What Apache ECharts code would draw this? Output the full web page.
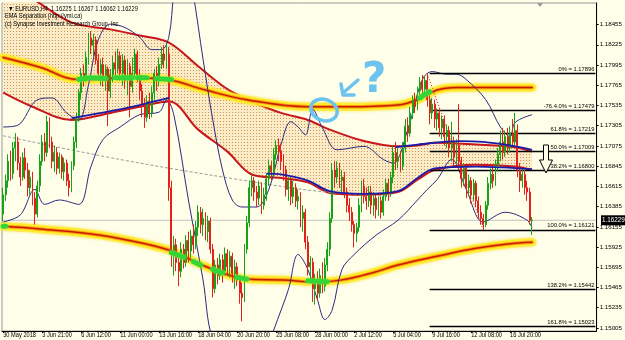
<!DOCTYPE html>
<html>
<head>
<meta charset="utf-8">
<script src="https://cdn.jsdelivr.net/npm/echarts@6/dist/echarts.min.js"></script>
<style>
html,body{margin:0;padding:0;background:#fefee9;}
#chart{width:625px;height:340px;}
</style>
</head>
<body>
<div id="chart"></div>
<script>
// time axis labels, one every 16 bars
var timeLabels = ['30 May 2018','3 Jun 21:00','6 Jun 12:00','11 Jun 00:00','13 Jun 16:00','18 Jun 04:00','20 Jun 20:00','25 Jun 08:00','28 Jun 00:00','2 Jul 12:00','5 Jul 04:00','9 Jul 16:00','12 Jul 08:00','16 Jul 20:00'];
var priceTicks = [1.18455,1.18225,1.17995,1.17765,1.17535,1.17305,1.17075,1.16845,1.16615,1.16385,1.16155,1.15925,1.15695,1.15465,1.15235,1.15005];
var lastPrice = 1.16229;

// EURUSD H4 bars: [open, close, low, high]
var candles = [
[1.1630,1.1652,1.1622,1.1660],[1.1652,1.1668,1.1645,1.1675],[1.1668,1.1690,1.1660,1.1698],[1.1690,1.1676,1.1668,1.1702],
[1.1676,1.1705,1.1670,1.1712],[1.1705,1.1712,1.1690,1.1722],[1.1712,1.1688,1.1680,1.1718],[1.1688,1.1672,1.1662,1.1695],
[1.1672,1.1694,1.1668,1.1700],[1.1694,1.1680,1.1670,1.1705],[1.1680,1.1660,1.1650,1.1688],[1.1660,1.1672,1.1652,1.1680],
[1.1672,1.1648,1.1640,1.1678],[1.1648,1.1630,1.1618,1.1655],[1.1630,1.1662,1.1626,1.1668],[1.1662,1.1690,1.1655,1.1698],
[1.1690,1.1712,1.1685,1.1720],[1.1712,1.1700,1.1690,1.1722],[1.1700,1.1735,1.1695,1.1742],[1.1735,1.1712,1.1705,1.1740],
[1.1712,1.1690,1.1682,1.1718],[1.1690,1.1700,1.1678,1.1708],[1.1700,1.1682,1.1675,1.1706],[1.1682,1.1695,1.1676,1.1700],
[1.1695,1.1678,1.1670,1.1698],[1.1678,1.1688,1.1668,1.1694],[1.1688,1.1668,1.1662,1.1692],[1.1668,1.1660,1.1650,1.1676],
[1.1660,1.1685,1.1655,1.1690],[1.1685,1.1712,1.1680,1.1718],[1.1712,1.1740,1.1705,1.1745],[1.1740,1.1768,1.1735,1.1772],
[1.1768,1.1790,1.1760,1.1796],[1.1790,1.1785,1.1775,1.1800],[1.1785,1.1808,1.1780,1.1815],[1.1808,1.1830,1.1800,1.1836],
[1.1830,1.1822,1.1812,1.1838],[1.1822,1.1828,1.1808,1.1835],[1.1828,1.1805,1.1800,1.1832],[1.1805,1.1790,1.1782,1.1812],
[1.1790,1.1800,1.1776,1.1806],[1.1800,1.1782,1.1775,1.1808],[1.1782,1.1795,1.1770,1.1800],[1.1795,1.1770,1.1730,1.1798],
[1.1770,1.1788,1.1762,1.1795],[1.1788,1.1802,1.1780,1.1810],[1.1802,1.1795,1.1785,1.1815],[1.1795,1.1810,1.1790,1.1818],
[1.1810,1.1790,1.1782,1.1815],[1.1790,1.1805,1.1776,1.1812],[1.1805,1.1782,1.1772,1.1810],[1.1782,1.1798,1.1765,1.1806],
[1.1798,1.1775,1.1740,1.1802],[1.1775,1.1790,1.1768,1.1808],[1.1790,1.1812,1.1785,1.1818],[1.1812,1.1788,1.1780,1.1816],
[1.1788,1.1770,1.1760,1.1795],[1.1770,1.1755,1.1740,1.1778],[1.1755,1.1740,1.1728,1.1762],[1.1740,1.1758,1.1735,1.1765],
[1.1758,1.1745,1.1738,1.1768],[1.1745,1.1768,1.1740,1.1775],[1.1768,1.1790,1.1760,1.1795],[1.1790,1.1782,1.1770,1.1798],
[1.1782,1.1800,1.1775,1.1808],[1.1800,1.1812,1.1795,1.1820],[1.1812,1.1805,1.1796,1.1822],[1.1805,1.1812,1.1795,1.1824],
[1.1812,1.1660,1.1645,1.1820],[1.1660,1.1585,1.1570,1.1668],[1.1585,1.1595,1.1560,1.1605],[1.1595,1.1575,1.1565,1.1602],
[1.1575,1.1565,1.1548,1.1582],[1.1565,1.1590,1.1558,1.1598],[1.1590,1.1575,1.1568,1.1596],[1.1575,1.1600,1.1570,1.1606],
[1.1600,1.1588,1.1575,1.1610],[1.1588,1.1605,1.1580,1.1612],[1.1605,1.1595,1.1585,1.1618],[1.1595,1.1615,1.1590,1.1622],
[1.1615,1.1632,1.1605,1.1640],[1.1632,1.1618,1.1608,1.1638],[1.1618,1.1625,1.1605,1.1636],[1.1625,1.1610,1.1600,1.1632],
[1.1610,1.1622,1.1598,1.1628],[1.1622,1.1590,1.1585,1.1626],[1.1590,1.1545,1.1535,1.1596],[1.1545,1.1572,1.1540,1.1578],
[1.1572,1.1560,1.1550,1.1580],[1.1560,1.1578,1.1555,1.1585],[1.1578,1.1565,1.1552,1.1584],[1.1565,1.1585,1.1560,1.1592],
[1.1585,1.1570,1.1560,1.1590],[1.1570,1.1582,1.1558,1.1588],[1.1582,1.1562,1.1552,1.1586],[1.1562,1.1570,1.1545,1.1578],
[1.1570,1.1555,1.1548,1.1575],[1.1555,1.1540,1.1528,1.1560],[1.1540,1.1535,1.1508,1.1552],[1.1535,1.1590,1.1530,1.1596],
[1.1590,1.1620,1.1585,1.1628],[1.1620,1.1660,1.1615,1.1668],[1.1660,1.1668,1.1650,1.1675],[1.1668,1.1655,1.1645,1.1672],
[1.1655,1.1648,1.1638,1.1662],[1.1648,1.1662,1.1640,1.1668],[1.1662,1.1640,1.1630,1.1666],[1.1640,1.1652,1.1635,1.1660],
[1.1652,1.1670,1.1645,1.1676],[1.1670,1.1685,1.1662,1.1692],[1.1685,1.1678,1.1668,1.1690],[1.1678,1.1698,1.1672,1.1705],
[1.1698,1.1708,1.1692,1.1714],[1.1708,1.1702,1.1690,1.1716],[1.1702,1.1690,1.1680,1.1710],[1.1690,1.1680,1.1668,1.1698],
[1.1680,1.1658,1.1650,1.1685],[1.1658,1.1668,1.1645,1.1672],[1.1668,1.1650,1.1640,1.1672],[1.1650,1.1660,1.1642,1.1668],
[1.1660,1.1645,1.1638,1.1665],[1.1645,1.1650,1.1635,1.1658],[1.1650,1.1625,1.1615,1.1655],[1.1625,1.1632,1.1610,1.1640],
[1.1632,1.1598,1.1590,1.1636],[1.1598,1.1570,1.1560,1.1605],[1.1570,1.1575,1.1555,1.1582],[1.1575,1.1545,1.1530,1.1580],
[1.1545,1.1555,1.1527,1.1562],[1.1555,1.1540,1.1532,1.1565],[1.1540,1.1560,1.1535,1.1568],[1.1560,1.1548,1.1540,1.1575],
[1.1548,1.1572,1.1542,1.1580],[1.1572,1.1590,1.1565,1.1598],[1.1590,1.1625,1.1582,1.1632],[1.1625,1.1680,1.1620,1.1688],
[1.1680,1.1672,1.1660,1.1690],[1.1672,1.1682,1.1665,1.1690],[1.1682,1.1668,1.1660,1.1688],[1.1668,1.1672,1.1655,1.1680],
[1.1672,1.1655,1.1648,1.1678],[1.1655,1.1640,1.1632,1.1660],[1.1640,1.1632,1.1622,1.1648],[1.1632,1.1618,1.1610,1.1638],
[1.1618,1.1608,1.1592,1.1622],[1.1608,1.1615,1.1598,1.1620],[1.1615,1.1640,1.1610,1.1648],[1.1640,1.1662,1.1632,1.1668],
[1.1662,1.1650,1.1642,1.1670],[1.1650,1.1645,1.1635,1.1660],[1.1645,1.1655,1.1638,1.1662],[1.1655,1.1640,1.1630,1.1662],
[1.1640,1.1648,1.1628,1.1655],[1.1648,1.1635,1.1625,1.1652],[1.1635,1.1645,1.1628,1.1650],[1.1645,1.1632,1.1625,1.1650],
[1.1632,1.1650,1.1628,1.1658],[1.1650,1.1665,1.1645,1.1670],[1.1665,1.1655,1.1645,1.1670],[1.1655,1.1672,1.1650,1.1678],
[1.1672,1.1700,1.1665,1.1708],[1.1700,1.1690,1.1680,1.1712],[1.1690,1.1695,1.1682,1.1705],[1.1695,1.1685,1.1678,1.1702],
[1.1685,1.1705,1.1680,1.1712],[1.1705,1.1730,1.1700,1.1738],[1.1730,1.1722,1.1712,1.1740],[1.1722,1.1745,1.1718,1.1752],
[1.1745,1.1760,1.1738,1.1765],[1.1760,1.1752,1.1745,1.1768],[1.1752,1.1770,1.1748,1.1775],[1.1770,1.1780,1.1762,1.1786],
[1.1780,1.1772,1.1765,1.1788],[1.1772,1.1782,1.1768,1.1787],[1.1782,1.1760,1.1752,1.17896],[1.1760,1.1745,1.1732,1.1765],
[1.1745,1.1755,1.1738,1.1762],[1.1755,1.1738,1.1728,1.1760],[1.1738,1.1745,1.1725,1.1750],[1.1745,1.1728,1.1718,1.1750],
[1.1728,1.1738,1.1715,1.1742],[1.1738,1.1718,1.1708,1.1742],[1.1718,1.1725,1.1705,1.1732],[1.1725,1.1705,1.1695,1.1730],
[1.1705,1.1712,1.1690,1.1735],[1.1712,1.1695,1.1685,1.1718],[1.1695,1.1708,1.1688,1.1715],[1.1708,1.1690,1.1680,1.1755],
[1.1690,1.1670,1.1660,1.1695],[1.1670,1.1682,1.1662,1.1688],[1.1682,1.1660,1.1648,1.1686],[1.1660,1.1668,1.1650,1.1675],
[1.1668,1.1652,1.1642,1.1672],[1.1652,1.1665,1.1645,1.1670],[1.1665,1.1645,1.1638,1.1668],[1.1645,1.1632,1.1625,1.1650],
[1.1632,1.1625,1.1618,1.1640],[1.1625,1.1618,1.16121,1.1630],[1.1618,1.1640,1.1615,1.1645],[1.1640,1.1665,1.1635,1.1672],
[1.1665,1.1675,1.1658,1.1682],[1.1675,1.1668,1.1660,1.1685],[1.1668,1.1685,1.1662,1.1692],[1.1685,1.1698,1.1678,1.1705],
[1.1698,1.1712,1.1690,1.1725],[1.1712,1.1700,1.1692,1.1728],[1.1700,1.1718,1.1695,1.1725],[1.1718,1.1705,1.1698,1.1728],
[1.1705,1.1722,1.1700,1.1730],[1.1722,1.1712,1.1705,1.1738],[1.1712,1.1725,1.1708,1.1745],[1.1725,1.1680,1.1672,1.1732],
[1.1680,1.1668,1.1655,1.1688],[1.1668,1.1675,1.1660,1.1682],[1.1675,1.1660,1.1652,1.1680],[1.1660,1.1655,1.1645,1.1668],
[1.1655,1.16225,1.1618,1.1660],[1.16225,1.16229,1.16062,1.16267]
];

// EMA separation band (red lines, dotted fill between)
var bandBars  = [0, 12, 28, 44, 56, 68, 80, 92, 102, 114, 125, 134, 148, 162, 170, 177, 194, 210, 217];
var bandUpper = [1.1895,1.1875,1.1848,1.1840,1.1833,1.1825,1.1798,1.1772,1.1758,1.1745,1.1737,1.1726,1.1713,1.1707,1.1708,1.1711,1.1709,1.1706,1.1701];
var bandLower = [1.1768,1.1752,1.1737,1.1745,1.1752,1.1758,1.1726,1.1701,1.1675,1.1671,1.1666,1.1654,1.1652,1.1655,1.1669,1.1680,1.1686,1.1684,1.1680];

// blue EMA lines [bar, price]
var blueLeft = [[28,1.1739],[44,1.1747],[56,1.1754],[68,1.1762]];
var blueMain = [[108,1.1676],[114,1.1675],[125,1.1668],[134,1.1656],[148,1.1653],[162,1.1656],[170,1.1671],[177,1.1682],[194,1.1684],[205,1.1683],[217,1.1681]];
var blueRight = [[161,1.1706],[170,1.1709],[187,1.1713],[197,1.1712],[210,1.1707],[217,1.1703]];

// slow MA (dashed grey)
var slowMa = [[0,1.1719],[48,1.1692],[97,1.1669],[129,1.1656],[160,1.1650]];

// Bollinger bands (thin navy)
var bbUpper = [[0,1.1729],[6,1.1731],[14,1.1760],[20,1.1762],[26,1.1745],[31,1.1737],[35,1.1777],[39,1.1828],[44,1.1846],[50,1.1842],[56,1.1831],[61,1.1817],[65,1.1817],[68,1.1832],[70,1.1880],[74,1.1940],[78,1.1880],[82,1.1806],[86,1.1737],[90,1.1680],[94,1.1646],[98,1.1638],[104,1.1638],[109,1.1658],[114,1.1709],[118,1.1735],[121,1.1729],[124,1.1720],[127,1.1749],[131,1.1728],[137,1.1703],[148,1.1707],[156,1.1692],[160,1.1688],[166,1.1726],[172,1.1783],[176,1.1792],[182,1.1789],[186,1.1789],[190,1.1783],[198,1.1760],[204,1.1729],[208,1.1718],[210,1.1734],[217,1.1743]];
var bbLower = [[0,1.1621],[7,1.1629],[13,1.1658],[17,1.1641],[23,1.1646],[31,1.1641],[36,1.1684],[41,1.1715],[48,1.1729],[56,1.1743],[64,1.1746],[67,1.1760],[70,1.1743],[76,1.1646],[82,1.1555],[86,1.1487],[96,1.1441],[104,1.1441],[111,1.1498],[117,1.1544],[121,1.1584],[125,1.1567],[129,1.1532],[132,1.1510],[135,1.1521],[139,1.1567],[144,1.1584],[153,1.1606],[162,1.1623],[170,1.1646],[174,1.1658],[178,1.1669],[184,1.1692],[190,1.1658],[197,1.1621],[206,1.1632],[215,1.1623],[217,1.1614]];

// glowing envelope lines
var yellowTop = [[0,1.1808],[15,1.1797],[31,1.1783],[53,1.1785],[67,1.1783],[83,1.1771],[100,1.1760],[125,1.1752],[141,1.1752],[162,1.1754],[170,1.1760],[178,1.1771],[186,1.1774],[202,1.1774],[217,1.1774]];
var yellowBottom = [[0,1.1616],[15,1.1613],[40,1.1606],[60,1.1595],[70,1.1587],[80,1.1574],[90,1.1563],[100,1.1556],[115,1.1555],[127,1.1553],[136,1.1554],[150,1.1562],[162,1.1572],[178,1.1582],[194,1.1591],[207,1.1596],[217,1.1598]];
var greenMarks = [
  [[0,1.1616],[1,1.1616]],
  [[31,1.1783],[36,1.1785],[42,1.1784]],[[46,1.1785],[53,1.1785]],[[55,1.1785],[59,1.1785]],[[63,1.1784],[69,1.1783]],
  [[171,1.1762],[173,1.1766],[175,1.1769]],
  [[69,1.1586],[74,1.1581]],[[78,1.1576],[81,1.1572]],[[86,1.1567],[90,1.1563]],[[96,1.1558],[100,1.1556]],[[125,1.1554],[133,1.1553]]
];

// Fibonacci levels
var fibStart = 175;
var fibNames  = ['0%','-76.4.0%','61.8%','50.0%','38.2%','100.0%','138.2%','161.8%'];
var fibPrices = [1.17896,1.17479,1.17219,1.17009,1.16800,1.16121,1.15442,1.15023];

var slots = 244;
var cats = [];
for (var i = 0; i < slots; i++) cats.push(String(i));

var font = "'Liberation Sans',sans-serif";

// dotted fill pattern
var pc = document.createElement('canvas');
pc.width = 3; pc.height = 3;
var g = pc.getContext('2d');
g.fillStyle = '#faecc9'; g.fillRect(0, 0, 3, 3);
g.fillStyle = '#d39245'; g.fillRect(1, 1, 1, 1);

function everyLabel(index) {
  return index % 16 === 0 && index / 16 < timeLabels.length;
}

function thinLine(data, color, width, z, dash) {
  return {type: 'line', data: data, smooth: 0.35, symbol: 'none', silent: true, z: z,
    lineStyle: {color: color, width: width, type: dash || 'solid'}};
}

function glowBand(data) {
  return [
    {type: 'line', data: data, smooth: 0.4, symbol: 'none', silent: true, z: 3,
      lineStyle: {width: 8, color: 'rgba(255,236,40,0.85)', shadowBlur: 3, shadowColor: 'rgba(255,215,0,0.9)', cap: 'round'}},
    {type: 'line', data: data, smooth: 0.4, symbol: 'none', silent: true, z: 3,
      lineStyle: {width: 3.5, color: '#ff9c10', cap: 'round'}},
    {type: 'line', data: data, smooth: 0.4, symbol: 'none', silent: true, z: 3,
      lineStyle: {width: 1.5, color: '#c81e00', cap: 'round'}}
  ];
}

var fibMarks = fibNames.map(function (name, i) {
  return [
    {coord: [String(fibStart), fibPrices[i]],
     lineStyle: {color: '#000', width: 1.4, type: 'solid'},
     label: {show: true, position: 'insideEndTop', distance: 1, formatter: name + ' = ' + fibPrices[i].toFixed(5),
       fontSize: 5.8, color: '#000', fontFamily: font}},
    {coord: [String(slots - 1), fibPrices[i]]}
  ];
});
fibMarks.push([
  {coord: ['174', fibPrices[0]], lineStyle: {color: '#d02020', width: 1, type: [1, 2]}, label: {show: false}},
  {coord: ['197', fibPrices[5]]}
]);

var series = [
  {type: 'line', data: bandBars.map(function (b, i) { return [b, bandLower[i]]; }), stack: 'band', smooth: 0.35,
    symbol: 'none', silent: true, z: 1, lineStyle: {color: '#c8161b', width: 2}},
  {type: 'line', data: bandBars.map(function (b, i) { return [b, +(bandUpper[i] - bandLower[i]).toFixed(5)]; }), stack: 'band', smooth: 0.35,
    symbol: 'none', silent: true, z: 1, lineStyle: {color: '#c8161b', width: 2},
    areaStyle: {color: {image: pc, repeat: 'repeat'}, opacity: 1}},
  thinLine(slowMa, '#9a9a9a', 1, 2, [3, 2]),
  // current price line, also carries the Fibonacci levels
  {type: 'line', data: [[0, lastPrice], [slots - 1, lastPrice]], symbol: 'none', silent: true, z: 2,
    lineStyle: {color: '#c4c4c4', width: 1},
    markLine: {symbol: 'none', silent: true, animation: false, data: fibMarks}}
];
series = series.concat(glowBand(yellowTop), glowBand(yellowBottom));
series.push(thinLine(bbUpper, '#2a2a80', 1, 4));
series.push(thinLine(bbLower, '#2a2a80', 1, 4));
series.push({
  type: 'candlestick', data: candles, barWidth: 1.4, z: 5, silent: true,
  itemStyle: {color: '#17a317', color0: '#e3211c', borderColor: '#17a317', borderColor0: '#e3211c', borderWidth: 1}
});
series.push(thinLine(blueLeft, '#1c1ca8', 1.8, 6));
series.push(thinLine(blueMain, '#1c1ca8', 1.8, 6));
series.push(thinLine(blueRight, '#1c1ca8', 1.8, 6));
greenMarks.forEach(function (seg) {
  series.push({type: 'line', data: seg, smooth: 0.3, symbol: 'none', silent: true, z: 7,
    lineStyle: {color: '#35d535', width: 5, cap: 'round', shadowBlur: 2, shadowColor: '#8cff8c'}});
});

var chart = echarts.init(document.getElementById('chart'));
chart.setOption({
  animation: false,
  backgroundColor: '#fefee9',
  grid: {left: 2, right: 24, top: 3, bottom: 9, show: true, borderColor: '#9a9a9a', borderWidth: 1},
  xAxis: {
    type: 'category', data: cats, boundaryGap: true,
    axisLine: {show: true, lineStyle: {color: '#000', width: 1}},
    axisTick: {show: true, alignWithLabel: true, interval: everyLabel, length: 2, lineStyle: {color: '#000'}},
    axisLabel: {show: false},
    splitLine: {show: false}
  },
  yAxis: {
    type: 'value', position: 'right', min: 1.1497, max: 1.1870,
    axisLine: {show: true, lineStyle: {color: '#000', width: 1}},
    axisTick: {show: true, length: 2, customValues: priceTicks, lineStyle: {color: '#000'}},
    axisLabel: {customValues: priceTicks, formatter: function (v) { return v.toFixed(5); },
      fontSize: 6.2, color: '#000', margin: 3, fontFamily: font},
    splitLine: {show: false}
  },
  series: series
});

var tagY = chart.convertToPixel({yAxisIndex: 0}, lastPrice);
var blue = '#6cc3ef';
var txt = function (s, x, y) {
  return {type: 'text', x: x, y: y, z: 20, scaleX: 0.81, silent: true,
    style: {text: s, fill: '#000', font: '7px ' + font, verticalAlign: 'middle'}};
};
var graphics = [
  txt('\u25BC EURUSD,H4  1.16225 1.16267 1.16062 1.16229', 8, 9),
  txt('EMA Separation (http://ymi.ca)', 5, 16.5),
  txt('(c) Synapse Investment Research Group, Inc.', 5, 24.5),
  {type: 'polygon', z: 20, shape: {points: [[537, 3], [543, 3], [540, 7]]}, style: {fill: '#9a9a9a'}},
  {type: 'rect', z: 20, shape: {x: 601, y: tagY - 5, width: 24, height: 10}, style: {fill: '#000'}},
  {type: 'text', z: 21, x: 602, y: tagY, style: {text: lastPrice.toFixed(5), fill: '#fff', font: '6.3px ' + font, verticalAlign: 'middle'}},
  {type: 'ellipse', z: 20, rotation: -0.35, originX: 324, originY: 110, shape: {cx: 324, cy: 110, rx: 13.5, ry: 10.5}, style: {fill: 'none', stroke: blue, lineWidth: 3.5}},
  {type: 'polyline', z: 20, shape: {points: [[358, 80], [343, 93]]}, style: {stroke: blue, lineWidth: 3.5, lineCap: 'round'}},
  {type: 'polyline', z: 20, shape: {points: [[341, 84], [343, 95], [354, 95]]}, style: {fill: 'none', stroke: blue, lineWidth: 3.5, lineCap: 'round', lineJoin: 'round'}},
  {type: 'text', z: 20, x: 362, y: 60, style: {text: '?', fill: blue, font: 'bold 42px "DejaVu Sans"'}},
  {type: 'polygon', z: 20, shape: {points: [[543.5, 145], [548.5, 145], [548.5, 160], [552.5, 160], [546, 173], [539.5, 160], [543.5, 160]]}, style: {fill: '#fefee9', stroke: '#000', lineWidth: 1}}
];
// time labels placed at their bars through the category axis
timeLabels.forEach(function (s, k) {
  var px = chart.convertToPixel({xAxisIndex: 0}, String(k * 16));
  graphics.push(txt(s, px, 335));
});
chart.setOption({graphic: graphics});
</script>
</body>
</html>
